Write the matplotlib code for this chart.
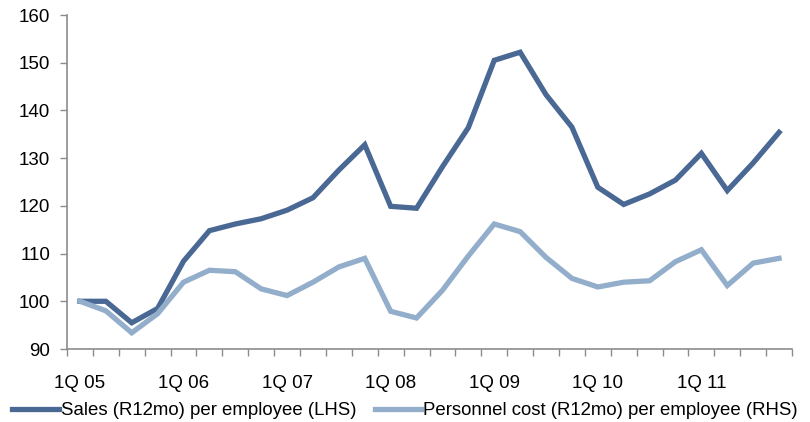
import matplotlib
matplotlib.use("Agg")
import matplotlib.pyplot as plt
import numpy as np

plt.rcParams['font.family'] = ['Liberation Sans', 'DejaVu Sans']

# Quarterly index values, 1Q05 = 100
quarters = [f"{q}Q {y:02d}" for y in range(5, 12) for q in range(1, 5)]
sales_per_employee = [100.0, 100.0, 95.5, 98.5, 108.4, 114.8, 116.2, 117.3,
                      119.1, 121.7, 127.5, 132.8, 119.9, 119.5, 128.2, 136.4,
                      150.5, 152.2, 143.3, 136.5, 123.9, 120.3, 122.5, 125.4,
                      131.0, 123.2, 129.0, 135.4]
personnel_cost_per_employee = [100.0, 98.0, 93.4, 97.4, 104.0, 106.5, 106.2, 102.6,
                               101.2, 104.0, 107.2, 109.0, 97.9, 96.5, 102.3, 109.5,
                               116.2, 114.6, 109.2, 104.8, 103.0, 104.0, 104.3, 108.3,
                               110.8, 103.3, 108.0, 109.0]
year_labels = ["1Q 05", "1Q 06", "1Q 07", "1Q 08", "1Q 09", "1Q 10", "1Q 11"]

dark = "#4A6894"
light = "#93AECB"
grey = "#8C8C8C"

fig = plt.figure(figsize=(8.10, 4.22), dpi=100)
ax = fig.add_axes([67/810, 1-349/422, (792-67)/810, (349-15)/422])

x = np.arange(len(quarters))
ax.plot(x, sales_per_employee, color=dark, lw=3.8, solid_joinstyle='miter',
        label="Sales (R12mo) per employee (LHS)")
ax.plot(x, personnel_cost_per_employee, color=light, lw=3.8, solid_joinstyle='miter',
        label="Personnel cost (R12mo) per employee (RHS)")

ax.set_xlim(-0.5, len(quarters) - 0.5)
ax.set_ylim(90, 160)
ax.set_yticks(np.arange(90, 161, 10))

# tick marks on quarter boundaries, labels on first quarter of each year
ax.set_xticks(np.arange(-0.5, len(quarters), 1.0))
ax.set_xticklabels([])
label_pos = [quarters.index(l) for l in year_labels]
ax.set_xticks(label_pos, minor=True)
ax.set_xticklabels(year_labels, minor=True)
ax.tick_params(axis='x', which='minor', length=0, pad=19, labelsize=13.5)
ax.tick_params(axis='x', which='major', length=5, width=1, color=grey, direction='out')
ax.tick_params(axis='y', length=5, width=1, color=grey, direction='out', labelsize=13.5, pad=7)

for side in ['top', 'right']:
    ax.spines[side].set_visible(False)
for side in ['left', 'bottom']:
    ax.spines[side].set_color(grey)
    ax.spines[side].set_linewidth(1.2)

fig.legend(loc='lower center', bbox_to_anchor=(0.5, -0.02), ncol=2, frameon=False,
           fontsize=13.4, handlelength=2.5, handletextpad=0.1, columnspacing=1.0,
           borderaxespad=0.2)

fig.savefig("out.png", dpi=100)
